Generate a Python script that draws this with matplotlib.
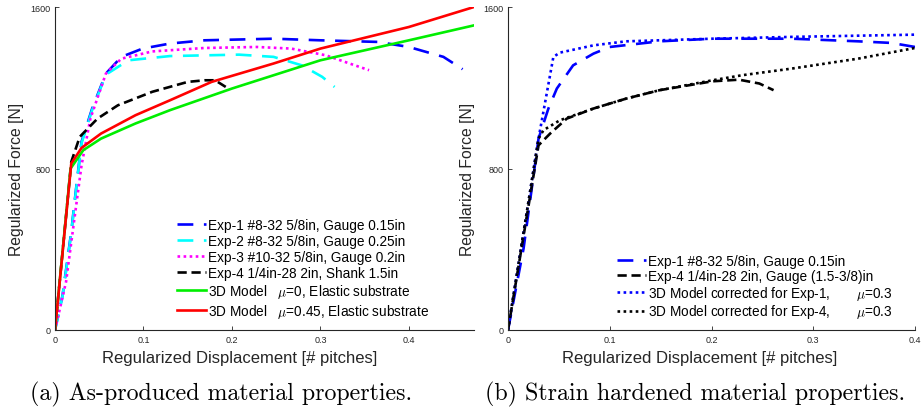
import numpy as np
import matplotlib.pyplot as plt

plt.rcParams['font.family'] = ['Liberation Sans', 'DejaVu Sans']
plt.rcParams['mathtext.fontset'] = 'cm'

# (a) as-produced material properties
exp1_x = [0, 0.0086, 0.0184, 0.0243, 0.030, 0.042, 0.0575, 0.075, 0.099, 0.13, 0.169, 0.247, 0.30, 0.365, 0.40, 0.439, 0.4607]
exp1_y = [0, 173, 487, 718, 932, 1097, 1270, 1353, 1394, 1419, 1435, 1443, 1435, 1427, 1402, 1353, 1292]
exp2_x = [0, 0.0086, 0.0184, 0.0243, 0.030, 0.042, 0.0575, 0.083, 0.130, 0.208, 0.247, 0.279, 0.302, 0.316]
exp2_y = [0, 170, 480, 712, 925, 1090, 1265, 1336, 1357, 1364, 1353, 1311, 1254, 1204]
exp3_x = [0, 0.0125, 0.024, 0.030, 0.040, 0.0575, 0.075, 0.110, 0.169, 0.228, 0.267, 0.306, 0.333, 0.355]
exp3_y = [0, 239, 619, 816, 1047, 1270, 1344, 1380, 1397, 1402, 1394, 1361, 1320, 1287]
exp4_x = [0, 0.0184, 0.028, 0.048, 0.071, 0.110, 0.150, 0.169, 0.181, 0.193, 0.197]
exp4_y = [0, 833, 957, 1047, 1113, 1180, 1229, 1237, 1237, 1204, 1188]
mu0_x = [0, 0.0176, 0.032, 0.052, 0.091, 0.130, 0.200, 0.300, 0.400, 0.4736]
mu0_y = [0, 800, 891, 948, 1023, 1089, 1196, 1336, 1435, 1509]
mu45_x = [0, 0.0184, 0.030, 0.052, 0.091, 0.130, 0.177, 0.247, 0.300, 0.400, 0.4736]
mu45_y = [0, 825, 902, 973, 1064, 1138, 1229, 1320, 1394, 1501, 1600]

# (b) strain hardened material properties
b_exp1_x = [0, 0.0153, 0.030, 0.0397, 0.048, 0.064, 0.084, 0.10, 0.149, 0.201, 0.279, 0.344, 0.377, 0.40]
b_exp1_y = [0, 404, 948, 1097, 1196, 1311, 1369, 1402, 1430, 1443, 1443, 1430, 1422, 1402]
b_exp4_x = [0, 0.030, 0.0414, 0.0577, 0.084, 0.116, 0.149, 0.201, 0.227, 0.247, 0.261]
b_exp4_y = [0, 915, 973, 1047, 1097, 1146, 1188, 1232, 1240, 1221, 1188]
b_mod1_x = [0, 0.030, 0.0446, 0.051, 0.084, 0.116, 0.201, 0.279, 0.40]
b_mod1_y = [0, 948, 1353, 1374, 1410, 1430, 1443, 1452, 1463]
b_mod4_x = [0, 0.030, 0.0349, 0.051, 0.084, 0.116, 0.149, 0.201, 0.230, 0.279, 0.344, 0.40]
b_mod4_y = [0, 948, 990, 1039, 1097, 1146, 1188, 1237, 1262, 1295, 1344, 1397]

xticks = [0, 0.1, 0.2, 0.3, 0.4]
xticklabels = ['0', '0.1', '0.2', '0.3', '0.4']
yticks = [0, 800, 1600]

W, H = 924, 414
fig = plt.figure(figsize=(W / 100, H / 100), dpi=100)
ax1 = fig.add_axes([55/W, 83/H, 419/W, 323/H])
ax2 = fig.add_axes([508/W, 83/H, 407/W, 323/H])

lw = 1.9
ax1.plot(exp1_x, exp1_y, color='#0000ff', lw=lw, dashes=(6, 4), label='Exp-1 #8-32 5/8in, Gauge 0.15in')
ax1.plot(exp2_x, exp2_y, color='#00ffff', lw=lw, dashes=(6, 4), label='Exp-2 #8-32 5/8in, Gauge 0.25in')
ax1.plot(exp3_x, exp3_y, color='#ff00ff', lw=lw, dashes=(1, 1.3), label='Exp-3 #10-32 5/8in, Gauge 0.2in')
ax1.plot(exp4_x, exp4_y, color='black', lw=lw, dashes=(3.5, 1.8), label='Exp-4 1/4in-28 2in, Shank 1.5in')
ax1.plot(mu0_x, mu0_y, color='#00ee00', lw=lw, label=r'3D Model   $\mu$=0, Elastic substrate')
ax1.plot(mu45_x, mu45_y, color='#ff0000', lw=lw, label=r'3D Model   $\mu$=0.45, Elastic substrate')
ax1.set_xlim(0, 0.4736)

ax2.plot(b_exp1_x, b_exp1_y, color='#0000ff', lw=lw, dashes=(6, 4), label='Exp-1 #8-32 5/8in, Gauge 0.15in')
ax2.plot(b_exp4_x, b_exp4_y, color='black', lw=lw, dashes=(3.5, 1.8), label='Exp-4 1/4in-28 2in, Gauge (1.5-3/8)in')
ax2.plot(b_mod1_x, b_mod1_y, color='#0000ff', lw=lw, dashes=(1, 1.3), label=r'3D Model corrected for Exp-1,       $\mu$=0.3')
ax2.plot(b_mod4_x, b_mod4_y, color='black', lw=lw, dashes=(1, 1.3), label=r'3D Model corrected for Exp-4,       $\mu$=0.3')
ax2.set_xlim(0, 0.4)

# label / legend placement in pixels: (xlabel centre x, ylabel centre x, legend top-left, row spacing)
place = {ax1: (240, 17, (177, 219), 0.14), ax2: (700, 468, (617, 255), 0.06)}

for ax in (ax1, ax2):
    ax.set_ylim(0, 1600)
    ax.set_xticks(xticks)
    ax.set_xticklabels(xticklabels)
    ax.set_yticks(yticks)
    ax.tick_params(direction='in', labelsize=6.5, colors='#262626', length=3, width=0.6)
    for s in ('top', 'right'):
        ax.spines[s].set_visible(False)
    for s in ('left', 'bottom'):
        ax.spines[s].set_color('#262626')
        ax.spines[s].set_linewidth(0.8)
    xl, yl, (lx, ly), sp = place[ax]
    ax.set_xlabel('Regularized Displacement [# pitches]', fontsize=12, color='#262626')
    ax.set_ylabel('Regularized Force [N]', fontsize=11.3, color='#262626')
    ax.xaxis.set_label_coords(xl / W, 1 - 359 / H, transform=fig.transFigure)
    ax.xaxis.label.set_va('center')
    ax.yaxis.set_label_coords(yl / W, 1 - 179 / H, transform=fig.transFigure)
    ax.yaxis.label.set_va('center')
    ax.legend(loc='upper left', bbox_to_anchor=(lx / W, 1 - ly / H), bbox_transform=fig.transFigure,
              frameon=False, fontsize=9.8, handlelength=2.1, handletextpad=0.2,
              labelspacing=sp, borderpad=0, borderaxespad=0)

fig.text(221/W, 1 - 394/H, '(a) As-produced material properties.', ha='center', va='center',
         family='cmr10', fontsize=17.2)
fig.text(695/W, 1 - 394/H, '(b) Strain hardened material properties.', ha='center', va='center',
         family='cmr10', fontsize=17.2)

fig.savefig('out.png', dpi=100)
